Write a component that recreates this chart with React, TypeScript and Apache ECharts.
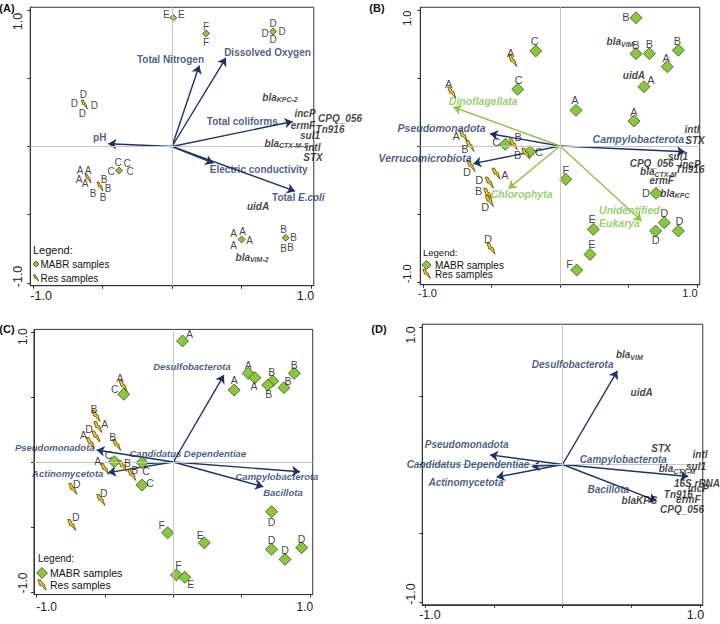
import React, { useEffect, useRef } from 'react';
import * as echarts from 'echarts';

type Pt = [number, number, string];
type Arrow = [number, number, number, number, string]; // tipX, tipY, labelX, labelY, name
type Off = [number, number];

const TICKS = [-1, -0.5, 0, 0.5, 1];
const TICK_LABELS = ['-1.0', '1.0'];
const PANEL_TITLES = ['(A)', '(B)', '(C)', '(D)'];
const LEGEND_TEXTS = ['Legend:', 'MABR samples', 'Res samples'];

// ---------- Panel A ----------
const aDiamonds: Pt[] = [
  [0.009, 0.943, 'E'],
  [0.245, 0.828, 'F'],
  [0.727, 0.842, 'D'],
  [-0.381, -0.176, 'C'],
  [0.501, -0.681, 'A'],
  [0.818, -0.669, 'B'],
];
const aBolts: Pt[] = [
  [-0.631, 0.308, 'D'],
  [-0.604, -0.234, 'A'],
  [-0.518, -0.293, 'B'],
];
const aArrows: Arrow[] = [
  [0.196, 0.593, -0.011, 0.635, 'Total Nitrogen'],
  [0.388, 0.65, 0.687, 0.691, 'Dissolved Oxygen'],
  [0.868, 0.183, 0.506, 0.186, 'Total coliforms'],
  [-0.458, 0.02, -0.52, 0.068, 'pH'],
  [0.297, -0.122, 0.624, -0.168, 'Electric conductivity'],
  [0.885, -0.327, 0.909, -0.371, 'Total E.coli'],
];
const aGenes: Pt[] = [
  [0.777, 0.359, 'bla_KPC-2'],
  [0.957, 0.24, 'incP'],
  [1.209, 0.205, 'CPQ_056'],
  [0.942, 0.154, 'ermF'],
  [1.137, 0.125, 'Tn916'],
  [0.993, 0.081, 'sul1'],
  [0.82, 0.022, 'bla_CTX-M-1'],
  [1.014, -0.007, 'intl'],
  [1.014, -0.081, 'STX'],
  [0.619, -0.44, 'uidA'],
  [0.576, -0.813, 'bla_VIM-2'],
];

// ---------- Panel B ----------
const bDiamonds: Pt[] = [
  [0.555, 0.943, 'B'], [-0.177, 0.699, 'C'], [0.555, 0.679, 'B'], [0.652, 0.679, 'B'],
  [0.864, 0.704, 'B'], [0.783, 0.583, 'A'], [0.613, 0.436, 'A'], [-0.309, 0.417, 'C'],
  [0.117, 0.262, 'A'], [0.54, 0.184, 'A'], [-0.399, 0.012, 'C'], [-0.219, -0.042, 'C'],
  [0.042, -0.245, 'F'], [0.701, -0.348, 'D'], [0.761, -0.564, 'D'], [0.864, -0.625, 'D'],
  [0.698, -0.625, 'D'], [0.243, -0.613, 'E'], [0.219, -0.797, 'E'], [0.122, -0.912, 'F'],
];
const bBolts: Pt[] = [
  [-0.345, 0.625, 'A'], [-0.79, 0.392, 'A'], [-0.706, 0.074, 'A'], [-0.657, 0.0, 'B'],
  [-0.341, 0.012, 'B'], [-0.25, -0.057, 'B'], [-0.65, -0.147, 'D'], [-0.467, -0.204, 'A'],
  [-0.516, -0.27, 'D'], [-0.528, -0.351, 'B'], [-0.516, -0.404, 'D'], [-0.504, -0.755, 'D'],
];
const bTaxaArrows: Arrow[] = [
  [-0.511, 0.09, -0.864, 0.135, 'Pseudomonadota'],
  [0.912, -0.042, 0.572, 0.049, 'Campylobacterota'],
  [-0.633, -0.13, -0.985, -0.086, 'Verrucomicrobiota'],
];
const bEukArrows: Arrow[] = [
  [-0.779, 0.287, -0.56, 0.331, 'Dinoflagellata'],
  [-0.377, -0.314, -0.28, -0.351, 'Chlorophyta'],
  [0.596, -0.551, 0.285, -0.518, 'Unidentified\nEukarya'],
];
const bGenes: Pt[] = [
  [0.438, 0.767, 'bla_VIM'], [0.54, 0.522, 'uidA'], [0.964, 0.123, 'intl'], [0.985, 0.042, 'STX'],
  [0.861, -0.074, 'sul1'], [0.669, -0.13, 'CPQ_056'], [0.949, -0.135, 'incP'],
  [0.718, -0.189, 'bla_CTX-M'], [0.949, -0.176, 'Tn916'], [0.742, -0.252, 'ermF'],
  [0.839, -0.346, 'bla_KPC'],
];

// ---------- Panel C ----------
const cDiamonds: Pt[] = [
  [0.067, 0.931, 'A'], [0.548, 0.682, 'A'], [0.597, 0.648, 'A'], [0.445, 0.554, 'A'],
  [0.727, 0.623, 'B'], [0.691, 0.592, 'B'], [0.81, 0.572, 'B'], [0.885, 0.682, 'B'],
  [-0.363, 0.521, 'C'], [-0.431, 0.002, 'C'], [-0.229, -0.005, 'C'], [-0.229, -0.177, 'C'],
  [0.719, -0.382, 'D'], [-0.042, -0.544, 'F'], [0.226, -0.621, 'E'], [0.718, -0.672, 'D'],
  [0.939, -0.659, 'D'], [0.817, -0.749, 'D'], [0.023, -0.869, 'F'], [0.084, -0.887, 'E'],
];
const cBolts: Pt[] = [
  [-0.368, 0.585, 'A'], [-0.566, 0.354, 'B'], [-0.553, 0.269, 'A'], [-0.566, 0.195, 'D'],
  [-0.607, 0.146, 'A'], [-0.415, 0.131, 'B'], [-0.502, -0.054, 'A'], [-0.372, -0.031, 'B'],
  [-0.304, -0.1, 'B'], [-0.736, -0.208, 'D'], [-0.531, -0.292, 'D'], [-0.744, -0.485, 'D'],
];
const cArrows: Arrow[] = [
  [0.37, 0.669, 0.136, 0.738, 'Desulfobacterota'],
  [-0.562, 0.092, -0.868, 0.108, 'Pseudomonadota'],
  [-0.258, -0.015, 0.106, 0.062, 'Candidatus Dependentiae'],
  [-0.478, -0.082, -0.773, -0.085, 'Actinomycetota'],
  [0.927, -0.075, 0.758, -0.108, 'Campylobacterota'],
  [0.658, -0.19, 0.802, -0.236, 'Bacillota'],
];

// ---------- Panel D ----------
const dArrows: Arrow[] = [
  [0.399, 0.681, 0.074, 0.725, 'Desulfobacterota'],
  [-0.527, 0.07, -0.697, 0.143, 'Pseudomonadota'],
  [-0.224, -0.015, -0.687, -0.002, 'Candidatus Dependentiae'],
  [-0.479, -0.092, -0.702, -0.129, 'Actinomycetota'],
  [0.915, -0.087, 0.442, 0.034, 'Campylobacterota'],
  [0.685, -0.264, 0.333, -0.184, 'Bacillota'],
];
const dGenes: Pt[] = [
  [0.486, 0.798, 'bla_VIM'], [0.576, 0.526, 'uidA'], [0.716, 0.119, 'STX'], [1.0, 0.07, 'intl'],
  [0.971, -0.015, 'sul1'], [0.833, -0.031, 'bla_CTX-M'], [0.978, -0.136, '16S rRNA'],
  [0.988, -0.172, 'incP'], [0.842, -0.22, 'Tn916'], [0.915, -0.257, 'ermF'],
  [0.559, -0.264, 'blaKPC'], [0.869, -0.327, 'CPQ_056'],
];

// ---------- label placement (style) ----------
const aDiamondLetterOffsets: Off[][] = [
  [[-7, -3], [8, -3]],
  [[0, -7], [0, 9]],
  [[0, -8], [-8, 2], [9, 0], [0, 8]],
  [[-1, -8], [8, -7], [-8, 1], [11, 1]],
  [[-8, -6], [1, -8], [8, 1], [-8, 6]],
  [[-2, -8], [8, 0], [-2, 11], [5, 10]],
];
const aBoltLetterOffsets: Off[][] = [
  [[-1, -10], [-10, -1], [10, 1], [-2, 9]],
  [[-8, -8], [0, -8], [-9, 1], [-3, 5]],
  [[4, -7], [8, 2], [-7, 7], [3, 11]],
];
const bDiamondLetterOffsets: Off[] = [
  [-10, -1], [-1, -10], [0, -9], [0, -10], [-1, -9], [-1, -9], [7, -7], [1, -9], [-1, -10], [0, -9],
  [-9, -2], [9, 0], [0, -9], [-10, 0], [0, -10], [1, -10], [0, 9], [-1, -10], [2, -10], [-7, -6],
];
const bBoltLetterOffsets: Off[] = [
  [-2, -8], [-3, -9], [-7, 0], [-5, 3], [5, -7], [-8, 1], [-4, 6], [9, 1], [-10, -3], [-9, -3], [-4, 6], [-3, -10],
];
const cDiamondLetterOffsets: Off[] = [
  [7, -7], [0, -8], [-1, 8], [0, -10], [-1, -9], [1, 9], [4, -7], [0, -8], [-9, -5], [-6, -7],
  [4, 8], [8, -2], [0, 10], [-6, -8], [-4, -8], [0, -9], [0, -9], [0, -9], [2, -10], [6, 7],
];
const cBoltLetterOffsets: Off[] = [
  [-3, -8], [-2, -7], [7, -3], [-7, -8], [-7, -8], [-4, -8], [-7, -8], [5, -3], [3, -5], [4, -5], [3, -7], [4, -8],
];

const FONT = "'Liberation Sans', Arial, sans-serif";
const NAVY = '#1b3466';
const GREEN_LINE = '#8cc63f';
const GREEN_TEXT = '#7ec242';
const INK = '#111111';
const DIAMOND_FILL = '#8cc63f';
const DIAMOND_EDGE = '#36561a';
const BOLT_FILL = '#f5c518';
const BOLT_EDGE = '#3a3000';
const BOLT_POINTS: Off[] = [[0, 0], [4, 0], [7, 6], [9, 6], [12, 15], [5, 8], [3, 8]];
const BOLT_SYMBOL = 'path://M0,0 L4,0 L7,6 L9,6 L12,15 L5,8 L3,8 Z';

interface PanelCfg {
  xPix: [number, number];
  yPix: [number, number];
  xLab: number[];
  yLab: number[];
  tickFont: number;
  xMargin: number;
  yMargin: number;
  diamonds: Pt[];
  bolts: Pt[];
  diamondOffs: Off[][];
  boltOffs: Off[][];
  diamondSize: number;
  boltSize: [number, number];
  letterFont: number;
  arrowSets: { arrows: Arrow[]; line: string; text: string; italic: boolean }[];
  arrowFont: number;
  genes: Pt[];
  geneFont: number;
  geneSub: number;
  title: [number, number];
  legend?: { x: number; y: number; font: number; itemFont: number; rows: [number, number]; symX: number; dia: number; boltScale: number; textX: number };
}

const PANELS: PanelCfg[] = [
  {
    xPix: [33, 311], yPix: [10, 283], xLab: [-0.942, 0.96], yLab: [-0.952, 0.916],
    tickFont: 12.5, xMargin: 4, yMargin: 6,
    diamonds: aDiamonds, bolts: aBolts, diamondOffs: aDiamondLetterOffsets, boltOffs: aBoltLetterOffsets,
    diamondSize: 7, boltSize: [6, 9], letterFont: 10,
    arrowSets: [{ arrows: aArrows, line: NAVY, text: NAVY, italic: false }], arrowFont: 10,
    genes: aGenes, geneFont: 10, geneSub: 7, title: [7, 8],
    legend: { x: 33, y: 250, font: 11, itemFont: 10, rows: [264, 278], symX: 36, dia: 3, boltScale: 0.42, textX: 40.5 },
  },
  {
    xPix: [423, 697], yPix: [10, 282], xLab: [-0.967, 0.949], yLab: [-0.94, 0.94],
    tickFont: 11, xMargin: 3, yMargin: 8,
    diamonds: bDiamonds, bolts: bBolts,
    diamondOffs: bDiamondLetterOffsets.map((o) => [o]), boltOffs: bBoltLetterOffsets.map((o) => [o]),
    diamondSize: 12, boltSize: [8, 11], letterFont: 11,
    arrowSets: [
      { arrows: bTaxaArrows, line: NAVY, text: NAVY, italic: true },
      { arrows: bEukArrows, line: GREEN_LINE, text: GREEN_TEXT, italic: true },
    ],
    arrowFont: 10.5, genes: bGenes, geneFont: 10, geneSub: 7, title: [377, 8],
    legend: { x: 423, y: 252, font: 9.5, itemFont: 10, rows: [265, 274], symX: 426.5, dia: 4.5, boltScale: 0.62, textX: 435 },
  },
  {
    xPix: [36.7, 310], yPix: [332, 592], xLab: [-0.927, 0.963], yLab: [-0.93, 0.965],
    tickFont: 12, xMargin: 6, yMargin: 5,
    diamonds: cDiamonds, bolts: cBolts,
    diamondOffs: cDiamondLetterOffsets.map((o) => [o]), boltOffs: cBoltLetterOffsets.map((o) => [o]),
    diamondSize: 12, boltSize: [8, 11], letterFont: 10.5,
    arrowSets: [{ arrows: cArrows, line: NAVY, text: NAVY, italic: true }],
    arrowFont: 9.5, genes: [], geneFont: 10, geneSub: 7, title: [7, 329],
    legend: { x: 38, y: 558, font: 10, itemFont: 10.5, rows: [573, 585], symX: 42, dia: 5.5, boltScale: 0.7, textX: 50 },
  },
  {
    xPix: [425, 700], yPix: [327, 602], xLab: [-0.964, 0.967], yLab: [-0.942, 0.942],
    tickFont: 12.5, xMargin: 4, yMargin: 5,
    diamonds: [], bolts: [], diamondOffs: [], boltOffs: [],
    diamondSize: 12, boltSize: [8, 11], letterFont: 10.5,
    arrowSets: [{ arrows: dArrows, line: NAVY, text: NAVY, italic: true }],
    arrowFont: 10, genes: dGenes, geneFont: 10, geneSub: 7, title: [379, 329],
  },
];

const RANGE = 1.02;

function geneRich(name: string): string {
  if (name.startsWith('bla_')) return `{g|bla}{s|${name.slice(4)}}`;
  return `{g|${name}}`;
}

function buildOption() {
  const grid: any[] = [];
  const xAxis: any[] = [];
  const yAxis: any[] = [];
  const series: any[] = [];
  const graphic: any[] = [];
  const tickFmt = (v: number) => (v < 0 ? TICK_LABELS[0] : TICK_LABELS[1]);

  PANELS.forEach((p, i) => {
    const ux = (p.xPix[1] - p.xPix[0]) / 2;
    const uy = (p.yPix[1] - p.yPix[0]) / 2;
    grid.push({
      left: p.xPix[0] - (RANGE - 1) * ux,
      width: 2 * RANGE * ux,
      top: p.yPix[0] - (RANGE - 1) * uy,
      height: 2 * RANGE * uy,
      show: true,
      borderColor: '#333',
      borderWidth: 1,
      backgroundColor: 'rgba(0,0,0,0)',
      containLabel: false,
      outerBoundsMode: 'none',
    });
    const common = {
      type: 'value',
      gridIndex: i,
      min: -RANGE,
      max: RANGE,
      splitLine: { show: false },
      axisLine: { show: true, onZero: false, lineStyle: { color: '#333', width: 1 } },
      axisTick: { show: true, customValues: TICKS, length: 3, lineStyle: { color: '#333' } },
    };
    xAxis.push({
      ...common,
      position: 'bottom',
      axisLabel: {
        show: true, customValues: p.xLab, formatter: tickFmt, fontSize: p.tickFont,
        fontFamily: FONT, color: '#222', margin: p.xMargin,
      },
    });
    yAxis.push({
      ...common,
      position: 'left',
      axisLabel: {
        show: true, customValues: p.yLab, formatter: tickFmt, fontSize: p.tickFont, rotate: 90,
        fontFamily: FONT, color: '#222', margin: p.yMargin,
      },
    });

    // zero lines
    series.push({
      type: 'scatter', xAxisIndex: i, yAxisIndex: i, data: [[0, 0]], symbolSize: 0, silent: true, z: 1,
      itemStyle: { color: 'rgba(0,0,0,0)' },
      markLine: {
        silent: true, symbol: ['none', 'none'], label: { show: false }, animation: false,
        lineStyle: { color: '#c6c6c6', width: 1, type: 'solid' },
        data: [{ xAxis: 0 }, { yAxis: 0 }],
      },
    });

    // arrows + labels
    p.arrowSets.forEach((set) => {
      series.push({
        type: 'lines', coordinateSystem: 'cartesian2d', xAxisIndex: i, yAxisIndex: i, z: 3, silent: true,
        symbol: ['none', 'arrow'], symbolSize: 8,
        lineStyle: { color: set.line, width: 1.4, opacity: 1 },
        data: set.arrows.map((a) => ({ coords: [[0, 0], [a[0], a[1]]] })),
      });
      series.push({
        type: 'scatter', xAxisIndex: i, yAxisIndex: i, z: 6, silent: true, clip: false, symbolSize: 1,
        itemStyle: { color: 'rgba(0,0,0,0)' },
        data: set.arrows.map((a) => ({
          value: [a[2], a[3]], name: a[4],
          label: a[4].includes('\n') ? { align: 'left' } : {},
        })),
        label: {
          show: true, position: 'inside',
          formatter: (prm: any) => {
            const n: string = prm.name;
            if (set.italic) return n.split('\n').map((s) => `{i|${s}}`).join('\n');
            if (n.includes('E.coli')) return `{n|${n.replace('E.coli', '')}}{i|E.coli}`;
            return `{n|${n}}`;
          },
          rich: {
            n: { fontFamily: FONT, fontSize: p.arrowFont, fontWeight: 'bold', color: set.text, lineHeight: 13 },
            i: { fontFamily: FONT, fontSize: p.arrowFont, fontWeight: 'bold', fontStyle: 'italic', color: set.text, lineHeight: 13 },
          },
        },
      });
    });

    // sample symbols
    if (p.diamonds.length) {
      series.push({
        type: 'scatter', xAxisIndex: i, yAxisIndex: i, z: 4, silent: true,
        symbol: 'diamond', symbolSize: p.diamondSize,
        itemStyle: { color: DIAMOND_FILL, borderColor: DIAMOND_EDGE, borderWidth: 0.8, opacity: 1 },
        data: p.diamonds.map((d) => [d[0], d[1]]),
      });
    }
    if (p.bolts.length) {
      series.push({
        type: 'scatter', xAxisIndex: i, yAxisIndex: i, z: 4, silent: true,
        symbol: BOLT_SYMBOL, symbolSize: p.boltSize,
        itemStyle: { color: BOLT_FILL, borderColor: BOLT_EDGE, borderWidth: 0.7, opacity: 1 },
        data: p.bolts.map((d) => [d[0], d[1]]),
      });
    }
    // letters
    const letterData: any[] = [];
    p.diamonds.forEach((d, k) => (p.diamondOffs[k] || []).forEach((o) =>
      letterData.push({ value: [d[0], d[1]], name: d[2], label: { offset: o } })));
    p.bolts.forEach((d, k) => (p.boltOffs[k] || []).forEach((o) =>
      letterData.push({ value: [d[0], d[1]], name: d[2], label: { offset: o } })));
    if (letterData.length) {
      series.push({
        type: 'scatter', xAxisIndex: i, yAxisIndex: i, z: 5, silent: true, clip: false, symbolSize: 1,
        itemStyle: { color: 'rgba(0,0,0,0)' },
        data: letterData,
        label: {
          show: true, position: 'inside', formatter: '{b}', color: INK,
          fontFamily: FONT, fontSize: p.letterFont,
        },
      });
    }
    // gene labels
    if (p.genes.length) {
      series.push({
        type: 'scatter', xAxisIndex: i, yAxisIndex: i, z: 6, silent: true, clip: false, symbolSize: 1,
        itemStyle: { color: 'rgba(0,0,0,0)' },
        data: p.genes.map((g) => ({ value: [g[0], g[1]], name: g[2] })),
        label: {
          show: true, position: 'inside',
          formatter: (prm: any) => geneRich(prm.name),
          rich: {
            g: { fontFamily: FONT, fontSize: p.geneFont, fontWeight: 'bold', fontStyle: 'italic', color: INK, lineHeight: 12 },
            s: { fontFamily: FONT, fontSize: p.geneSub, fontWeight: 'bold', fontStyle: 'italic', color: INK, lineHeight: 5, verticalAlign: 'bottom' },
          },
        },
      });
    }

    // panel title
    graphic.push({
      type: 'text', x: p.title[0], y: p.title[1], silent: true, z: 10,
      style: { text: PANEL_TITLES[i], fontFamily: FONT, fontSize: 11, fontWeight: 'bold', fill: INK, align: 'center', verticalAlign: 'middle' },
    });

    // legend
    if (p.legend) {
      const L = p.legend;
      graphic.push({
        type: 'text', x: L.x, y: L.y, silent: true, z: 10,
        style: { text: LEGEND_TEXTS[0], fontFamily: FONT, fontSize: L.font, fill: INK, align: 'left', verticalAlign: 'middle' },
      });
      const cy = L.rows[0];
      graphic.push({
        type: 'polygon', silent: true, z: 10,
        shape: { points: [[L.symX, cy - L.dia], [L.symX + L.dia, cy], [L.symX, cy + L.dia], [L.symX - L.dia, cy]] },
        style: { fill: DIAMOND_FILL, stroke: DIAMOND_EDGE, lineWidth: 0.8 },
      });
      graphic.push({
        type: 'text', x: L.textX, y: L.rows[0], silent: true, z: 10,
        style: { text: LEGEND_TEXTS[1], fontFamily: FONT, fontSize: L.itemFont, fill: INK, align: 'left', verticalAlign: 'middle' },
      });
      const by = L.rows[1];
      const s = L.boltScale;
      graphic.push({
        type: 'polygon', silent: true, z: 10,
        shape: { points: BOLT_POINTS.map(([px, py]) => [L.symX - 6 * s + px * s, by - 7.5 * s + py * s]) },
        style: { fill: BOLT_FILL, stroke: BOLT_EDGE, lineWidth: 0.7 },
      });
      graphic.push({
        type: 'text', x: L.textX, y: L.rows[1], silent: true, z: 10,
        style: { text: LEGEND_TEXTS[2], fontFamily: FONT, fontSize: L.itemFont, fill: INK, align: 'left', verticalAlign: 'middle' },
      });
    }
  });

  return {
    animation: false,
    backgroundColor: '#ffffff',
    textStyle: { fontFamily: FONT },
    grid, xAxis, yAxis, series, graphic,
  };
}

export default function App() {
  const ref = useRef<HTMLDivElement>(null);
  useEffect(() => {
    if (!ref.current) return;
    const chart = echarts.init(ref.current, undefined, { renderer: 'svg' });
    chart.setOption(buildOption() as any);
    return () => chart.dispose();
  }, []);
  return <div ref={ref} style={{ position: 'absolute', left: 0, top: 0, width: 720, height: 624 }} />;
}
